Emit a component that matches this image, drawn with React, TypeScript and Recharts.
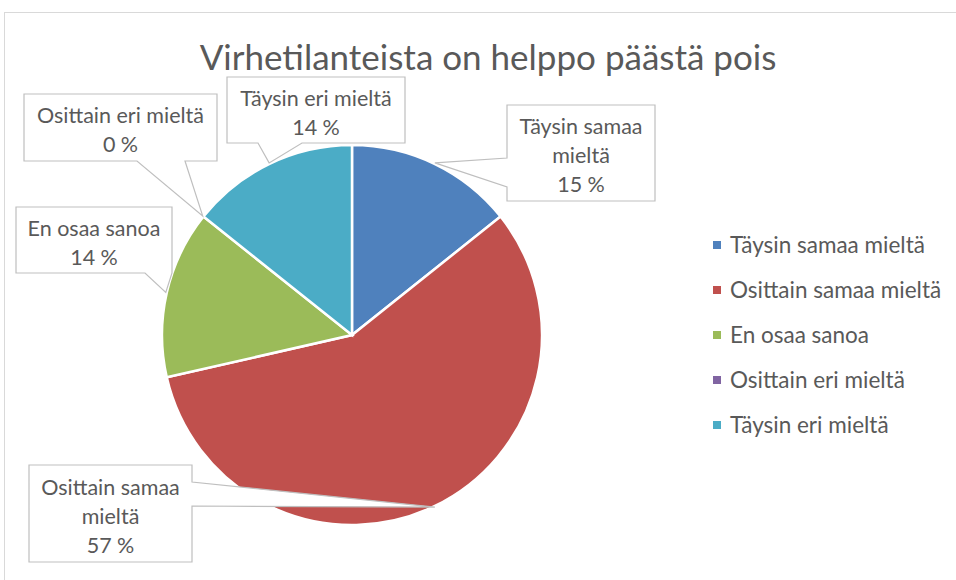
import React from 'react';
import { PieChart, Pie, Cell, Legend } from 'recharts';

const categories = [
  'Täysin samaa mieltä',
  'Osittain samaa mieltä',
  'En osaa sanoa',
  'Osittain eri mieltä',
  'Täysin eri mieltä',
];
// slice sizes
const responses = [1, 4, 1, 0, 1];
// percentages as printed on the callouts
const percentLabels = [15, 57, 14, 0, 14];
const labelLines = [
  ['Täysin samaa', 'mieltä'],
  ['Osittain samaa', 'mieltä'],
  ['En osaa sanoa'],
  ['Osittain eri mieltä'],
  ['Täysin eri mieltä'],
];
const colors = ['#4F81BD', '#C0504D', '#9BBB59', '#8064A2', '#4BACC6'];

// callout boxes, placed relative to the pie centre (dragged by hand in the original)
const calloutLayout = [
  { dx: 155, dy: -230, w: 148, h: 96, side: 'left', a: 53, b: 82 },
  { dx: -323, dy: 130, w: 163, h: 97, side: 'right', a: 17, b: 41 },
  { dx: -336, dy: -128, w: 156, h: 66, side: 'bottom', a: 129, b: 156 },
  { dx: -328, dy: -241, w: 193, h: 67, side: 'bottom', a: 113, b: 161 },
  { dx: -125, dy: -258, w: 178, h: 66, side: 'bottom', a: 31, b: 75 },
];

const data = categories.map((name, i) => ({ name, value: responses[i] }));

const FONT = 'Lato, "Open Sans", sans-serif';
const TEXT = '#595959';

const renderCallout = (props: any) => {
  const { cx, cy, midAngle, outerRadius, index } = props;
  const RAD = Math.PI / 180;
  const ax = cx + (outerRadius + 1) * Math.cos(-midAngle * RAD);
  const ay = cy + (outerRadius + 1) * Math.sin(-midAngle * RAD);
  const L = calloutLayout[index];
  const x = cx + L.dx;
  const y = cy + L.dy;
  const { w, h } = L;
  const pts: [number, number][] = [[x, y], [x + w, y]];
  if (L.side === 'right') pts.push([x + w, y + L.a], [ax, ay], [x + w, y + L.b]);
  pts.push([x + w, y + h]);
  if (L.side === 'bottom') pts.push([x + L.b, y + h], [ax, ay], [x + L.a, y + h]);
  pts.push([x, y + h]);
  if (L.side === 'left') pts.push([x, y + L.b], [ax, ay], [x, y + L.a]);
  const d = 'M' + pts.map((p) => `${p[0]},${p[1]}`).join('L') + 'Z';
  const lines = [...labelLines[index], `${percentLabels[index]} %`];
  const step = 29;
  const mid = y + h / 2 + 2;
  return (
    <g key={`callout-${index}`}>
      <path d={d} fill="#fff" stroke="#BFBFBF" strokeWidth={1.2} />
      {lines.map((t, k) => (
        <text
          key={k}
          x={x + w / 2}
          y={mid + (k - (lines.length - 1) / 2) * step}
          textAnchor="middle"
          dominantBaseline="central"
          fill={TEXT}
          fontSize={21.5}
          fontFamily={FONT}
        >
          {t}
        </text>
      ))}
    </g>
  );
};

const renderLegend = () => (
  <div style={{ fontFamily: FONT, fontSize: 22.5, color: TEXT }}>
    {categories.map((c, i) => (
      <div key={c} style={{ height: 45, display: 'flex', alignItems: 'center' }}>
        <span style={{ width: 8, height: 8, background: colors[i], marginRight: 9, display: 'inline-block' }} />
        <span>{c}</span>
      </div>
    ))}
  </div>
);

export default function App() {
  return (
    <div style={{ position: 'absolute', left: 0, top: 0, width: 956, height: 580, overflow: 'hidden', background: '#fff' }}>
      <div
        style={{
          position: 'absolute',
          left: 4,
          top: 12,
          width: 980,
          height: 600,
          border: '1px solid #D9D9D9',
        }}
      />
      <div
        style={{
          position: 'absolute',
          left: 0,
          top: 34,
          width: 976,
          textAlign: 'center',
          fontFamily: FONT,
          fontSize: 35,
          color: TEXT,
          lineHeight: '44px',
        }}
      >
        Virhetilanteista on helppo päästä pois
      </div>
      <div style={{ position: 'absolute', left: 0, top: 0 }}>
        <PieChart width={956} height={580} margin={{ top: 0, right: 0, bottom: 0, left: 0 }}>
          <Pie
            data={data}
            dataKey="value"
            nameKey="name"
            cx={352}
            cy={335}
            outerRadius={190}
            startAngle={90}
            endAngle={-270}
            stroke="#fff"
            strokeWidth={2.5}
            label={renderCallout}
            labelLine={false}
            isAnimationActive={false}
          >
            {data.map((d, i) => (
              <Cell key={d.name} fill={colors[i]} />
            ))}
          </Pie>
          <Legend
            content={renderLegend}
            wrapperStyle={{ left: 713, top: 222, width: 240 }}
          />
        </PieChart>
      </div>
    </div>
  );
}
